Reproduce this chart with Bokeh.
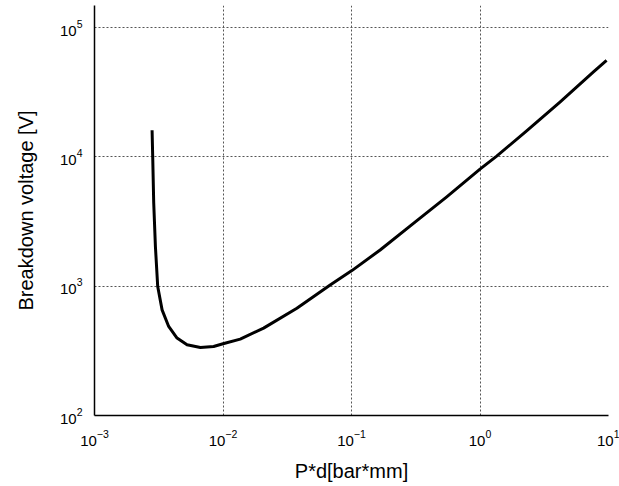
from bokeh.plotting import figure
from bokeh.models import FixedTicker, LogTickFormatter, Range1d, ColumnDataSource
from bokeh.embed import file_html
from bokeh.resources import INLINE

# Paschen curve
pd_values = [0.002806, 0.002838, 0.002890, 0.002979, 0.003104, 0.003357, 0.003778,
             0.004389, 0.005248, 0.006668, 0.008450, 0.01, 0.01362, 0.02070,
             0.03758, 0.06823, 0.1007, 0.1671, 0.3034, 0.5510, 1.0, 1.349,
             2.307, 4.19, 7.60, 9.66]
vb_values = [16070, 10000, 4395, 2022, 994, 656, 488,
             397, 352, 336, 342, 359, 390, 474,
             676, 1023, 1320, 1906, 3063, 4914, 8040, 10150,
             15880, 26550, 45300, 55700]

x_ticks = [1e-3, 1e-2, 1e-1, 1e0, 1e1]
y_ticks = [1e2, 1e3, 1e4, 1e5]
x_grid = [1e-2, 1e-1, 1e0]
y_grid = [1e3, 1e4, 1e5]
x_start, x_end = 1e-3, 1e1
y_start, y_end = 1e2, 10 ** 5.171

FONT = "Liberation Sans"

p = figure(width=619, height=484, x_axis_type="log", y_axis_type="log",
           x_range=Range1d(x_start, x_end), y_range=Range1d(y_start, y_end),
           output_backend="svg", toolbar_location=None,
           min_border_left=94, min_border_right=11, min_border_top=5, min_border_bottom=68)
p.outline_line_color = None
p.background_fill_color = "white"
p.border_fill_color = "white"

src = ColumnDataSource(data=dict(x=pd_values, y=vb_values))
p.line("x", "y", source=src, line_color="black", line_width=3, line_join="round")

for ax, ticks in ((p.xaxis[0], x_ticks), (p.yaxis[0], y_ticks)):
    ax.ticker = FixedTicker(ticks=ticks)
    ax.formatter = LogTickFormatter()
    ax.axis_line_color = "black"
    ax.axis_line_width = 1.5
    ax.major_tick_line_color = None
    ax.minor_tick_line_color = None
    ax.major_tick_out = 0
    ax.major_tick_in = 0
    ax.major_label_text_font = FONT
    ax.major_label_text_font_size = "15px"
    ax.major_label_text_color = "black"
    ax.axis_label_text_font = FONT
    ax.axis_label_text_font_size = "20px"
    ax.axis_label_text_font_style = "normal"
    ax.axis_label_text_color = "black"

p.xaxis.axis_label = "P*d[bar*mm]"
p.yaxis.axis_label = "Breakdown voltage [V]"
p.xaxis.major_label_standoff = 14
p.yaxis.major_label_standoff = 12
p.xaxis.axis_label_standoff = 11
p.yaxis.axis_label_standoff = 20

p.xgrid.ticker = FixedTicker(ticks=x_grid)
p.ygrid.ticker = FixedTicker(ticks=y_grid)
for g in (p.xgrid, p.ygrid):
    g.grid_line_color = "#555555"
    g.grid_line_width = 1
    g.grid_line_dash = "2 2"

open("out.html", "w").write(file_html(p, INLINE))
